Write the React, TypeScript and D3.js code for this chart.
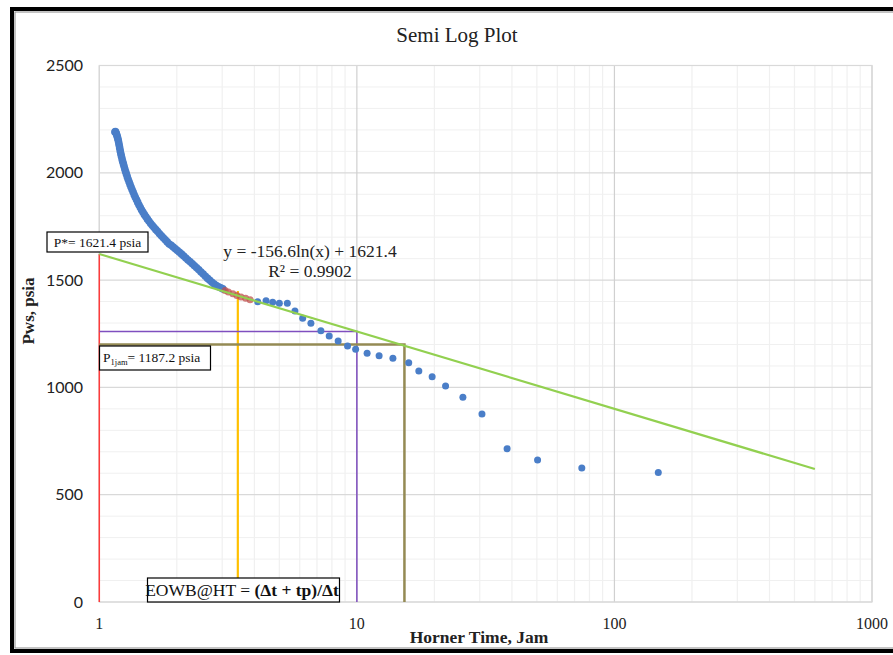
import React from "react";
import * as d3 from "d3";

const denseX = [1.150,1.155,1.160,1.165,1.170,1.175,1.180,1.185,1.190,1.195,1.200,1.206,1.212,1.218,1.225,1.232,1.240,1.248,1.256,1.265,1.274,1.284,1.294,1.305,1.316,1.328,1.340,1.353,1.366,1.380,1.395,1.410,1.426,1.443,1.460,1.478,1.497,1.517,1.538,1.560,1.583,1.607,1.632,1.658,1.685,1.713,1.742,1.772,1.803,1.835,1.868,1.902,1.937,1.973,2.010,2.048,2.087,2.127,2.168,2.210,2.253,2.297,2.342,2.388,2.435,2.483,2.532,2.582,2.633,2.685,2.738,2.792,2.847,2.903,2.960,3.018];
const denseY = [2190,2192,2188,2182,2175,2168,2160,2150,2140,2128,2116,2102,2090,2078,2066,2054,2042,2030,2018,2006,1994,1982,1970,1958,1946,1934,1922,1910,1898,1886,1874,1862,1850,1838,1827,1816,1805,1795,1784,1774,1764,1754,1745,1735,1726,1716,1707,1697,1688,1678,1668,1662,1654,1646,1638,1630,1621,1612,1603,1594,1585,1576,1567,1557,1548,1538,1528,1518,1508,1499,1490,1482,1475,1469,1464,1459];
const fitX = [3.08,3.17,3.30,3.42,3.55,3.70,3.85];
const fitY = [1452,1444,1436,1428,1421,1416,1409];
const lateX = [4.12,4.44,4.71,5.0,5.37,5.75,6.16,6.63,7.25,7.81,8.46,9.2,9.89,10.96,12.2,13.8,15.9,17.4,19.6,22.1,25.8,30.6,38.3,50.3,74.7,148];
const lateY = [1399,1404,1397,1392,1392,1356,1322,1299,1264,1240,1216,1193,1178,1159,1148,1136,1115,1076,1050,1006,954,876,714,662,624,603];

const slope = -156.6;
const intercept = 1621.4;
const trendStart = 1;
const trendEnd = 600;
const eowbX = 3.45;
const eowbY = 1449;
const purpleX = 10;
const oliveX = 15.3;
const oliveY = 1200;

const xTicks = [1, 10, 100, 1000];
const yTicks = [0, 500, 1000, 1500, 2000, 2500];

export default function App() {
  const W = 893, H = 655;
  const x = d3.scaleLog().domain([1, 1000]).range([99.3, 872]);
  const y = d3.scaleLinear().domain([0, 2500]).range([602, 65.5]);
  const f = (v: number) => slope * Math.log(v) + intercept;

  const minorX: number[] = [];
  for (let d = 1; d < 1000; d *= 10) for (let k = 2; k <= 9; k++) minorX.push(d * k);
  const minorY = d3.range(0, 2501, 100).filter((v) => v % 500 !== 0);

  const serif = "'Liberation Serif', 'Times New Roman', serif";
  const sans = "Lato, 'Open Sans', sans-serif";
  const trendPts = [trendStart, trendEnd];
  const line = d3.line<number>().x((v) => x(v)).y((v) => y(f(v)));

  return (
    <div style={{ position: "absolute", left: 0, top: 0 }}>
      <svg width={W} height={H} style={{ display: "block", fontFamily: serif }}>
        <rect x={0} y={0} width={W} height={H} fill="#fff" />
        {/* frame */}
        <rect x={12} y={9} width={W + 20} height={642} fill="none" stroke="#000" strokeWidth={4} />
        <rect x={15} y={12} width={W + 20} height={636} fill="none" stroke="#888" strokeWidth={1} />

        {/* grid */}
        {minorY.map((v) => (
          <line key={"my" + v} x1={x(1)} x2={x(1000)} y1={y(v)} y2={y(v)} stroke="#f0f0f0" strokeWidth={1} />
        ))}
        {minorX.map((v) => (
          <line key={"mx" + v} x1={x(v)} x2={x(v)} y1={y(0)} y2={y(2500)} stroke="#f0f0f0" strokeWidth={1.2} />
        ))}
        {yTicks.map((v) => (
          <line key={"gy" + v} x1={x(1)} x2={x(1000)} y1={y(v)} y2={y(v)} stroke="#d9d9d9" strokeWidth={1.2} />
        ))}
        {xTicks.map((v) => (
          <line key={"gx" + v} x1={x(v)} x2={x(v)} y1={y(0)} y2={y(2500)} stroke="#d0d0d0" strokeWidth={1.2} />
        ))}
        <rect x={x(1)} y={y(2500)} width={x(1000) - x(1)} height={y(0) - y(2500)} fill="none" stroke="#d9d9d9" strokeWidth={1.2} />

        {/* reference lines */}
        <line x1={x(1)} x2={x(1)} y1={y(intercept)} y2={y(0)} stroke="#ff3b3b" strokeWidth={1.5} />
        <line x1={x(eowbX)} x2={x(eowbX)} y1={y(eowbY)} y2={y(0)} stroke="#ffc000" strokeWidth={2.2} />
        <polyline points={`${x(1)},${y(f(purpleX))} ${x(purpleX)},${y(f(purpleX))} ${x(purpleX)},${y(0)}`} fill="none" stroke="#7f4fbf" strokeWidth={1.5} />
        <polyline points={`${x(1)},${y(oliveY)} ${x(oliveX)},${y(oliveY)} ${x(oliveX)},${y(0)}`} fill="none" stroke="#948a54" strokeWidth={2.5} />

        {/* data */}
        {denseX.map((v, i) => (
          <circle key={"d" + i} cx={x(v)} cy={y(denseY[i])} r={3.8} fill="#4a7ec8" />
        ))}
        {fitX.map((v, i) => (
          <circle key={"f" + i} cx={x(v)} cy={y(fitY[i])} r={3.5} fill="#c0504d" fillOpacity={0.75} />
        ))}
        {lateX.map((v, i) => (
          <circle key={"l" + i} cx={x(v)} cy={y(lateY[i])} r={3.5} fill="#4a7ec8" />
        ))}

        {/* trend line */}
        <path d={line(trendPts) || ""} fill="none" stroke="#92d050" strokeWidth={2.2} />

        {/* ticks */}
        {yTicks.map((v) => (
          <text key={"ty" + v} x={83} y={y(v)} dy="0.35em" textAnchor="end" fontSize={16} fontFamily={sans} fill="#222">{v}</text>
        ))}
        {xTicks.map((v) => (
          <text key={"tx" + v} x={x(v)} y={629} textAnchor="middle" fontSize={16} fill="#222">{v}</text>
        ))}

        {/* titles */}
        <text x={457} y={35} dy="0.35em" textAnchor="middle" fontSize={21} fill="#222">Semi Log Plot</text>
        <text x={479} y={643} textAnchor="middle" fontSize={17.5} fontWeight="bold" fill="#222">Horner Time, Jam</text>
        <text transform="translate(34,311) rotate(-90)" textAnchor="middle" fontSize={17} fontWeight="bold" fill="#222">Pws, psia</text>

        {/* equation */}
        <text x={310} y={257} textAnchor="middle" fontSize={17.5} fill="#222">y = -156.6ln(x) + 1621.4</text>
        <text x={310} y={277} textAnchor="middle" fontSize={17.5} fill="#222">R² = 0.9902</text>

        {/* annotation boxes */}
        <rect x={47} y={232} width={101} height={20} fill="#fff" stroke="#000" strokeWidth={1.2} />
        <text x={97.5} y={242} dy="0.35em" textAnchor="middle" fontSize={13.5} fill="#111">P*= 1621.4 psia</text>

        <rect x={99.5} y={346} width={111} height={24} fill="#fff" stroke="#000" strokeWidth={1.2} />
        <text x={103} y={362} fontSize={13.5} fill="#111">
          P<tspan fontSize={8.5} dy={3}>1jam</tspan><tspan dy={-3}>= 1187.2 psia</tspan>
        </text>

        <rect x={147.5} y={578} width={192} height={24} fill="#fff" stroke="#000" strokeWidth={1.2} />
        <text x={242} y={590} dy="0.35em" textAnchor="middle" fontSize={17.5} fill="#111">
          EOWB@HT = <tspan fontWeight="bold">(Δt + tp)/Δt</tspan>
        </text>
      </svg>
    </div>
  );
}
